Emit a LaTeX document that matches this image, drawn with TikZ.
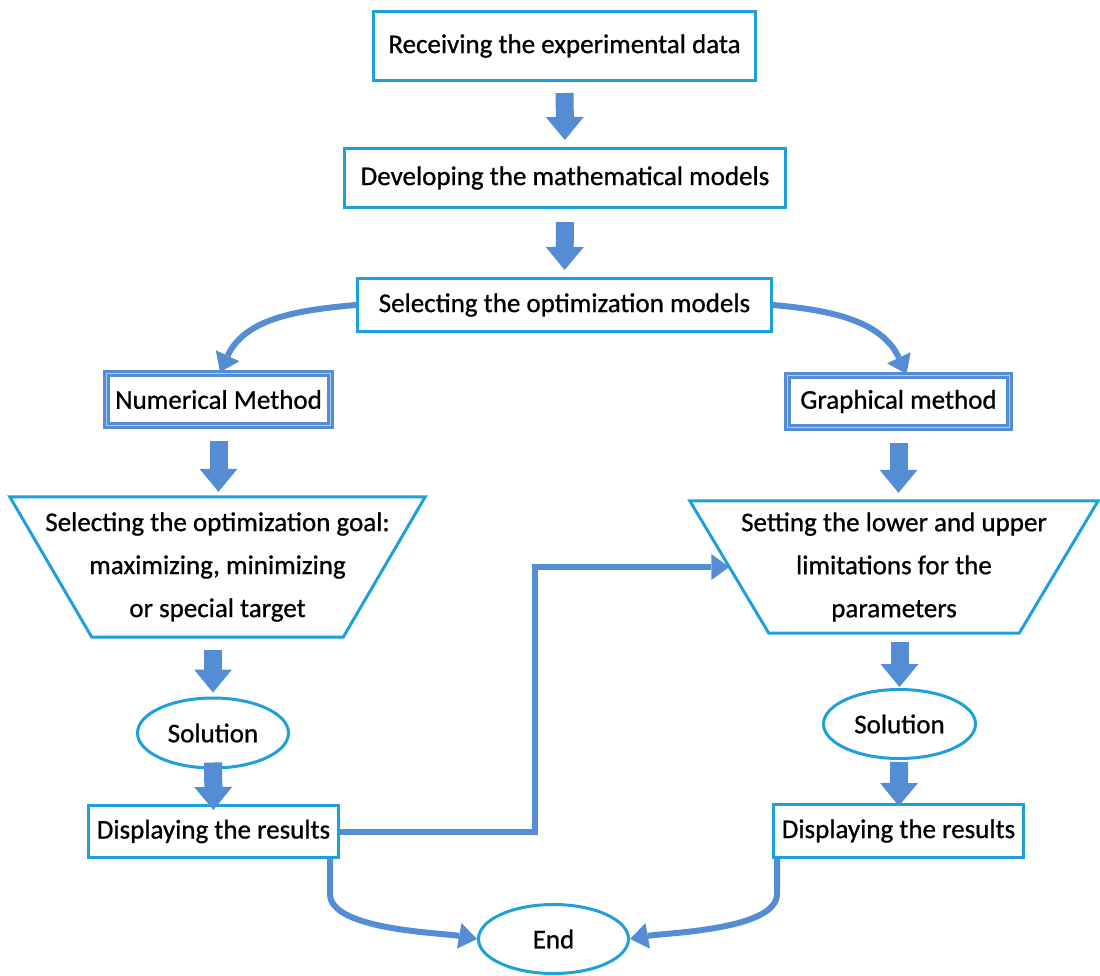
\documentclass[tikz,border=0pt]{standalone}
\usepackage{fontspec}
\setmainfont{Carlito}[UprightFeatures={FakeBold=0.8}]
\usepackage{xcolor}
\usepackage{tikz}
\usetikzlibrary{shapes.geometric,arrows.meta,calc}
\definecolor{boxcyan}{RGB}{30,160,220}
\definecolor{arrowblue}{RGB}{84,141,212}
\definecolor{methodline}{RGB}{170,205,240}
\newcommand{\flowbox}[4][]{\node[procbox,#1] at (#2) (#3) {#4}}
\newcommand{\trapbox}[6]{%
  \node[align=center,inner sep=0pt,minimum width=#3,minimum height=#4] at (#1) (#2) {#6};
  \draw[trapline] (#2.north west) -- (#2.north east) -- ([xshift=-#5]#2.south east) -- ([xshift=#5]#2.south west) -- cycle}
\tikzset{
  procbox/.style={draw=boxcyan,line width=3pt,fill=white,inner sep=4pt},
  methodbox/.style={draw=arrowblue,line width=2.8pt,double=methodline,double distance=1.4pt},
  termbox/.style={ellipse,draw=boxcyan,line width=3pt,inner sep=2pt},
  trapline/.style={draw=boxcyan,line width=3pt,line join=miter},
  blockarrow/.style={draw=arrowblue,line width=18pt,-{Triangle[length=23pt,width=38pt,line width=0pt]}},
  flowline/.style={draw=arrowblue,line width=6pt,-{Triangle[length=18pt,width=26pt,line width=0pt]}}
}

\begin{document}
\begin{tikzpicture}[x=1pt,y=1pt,font=\fontsize{27}{43}\selectfont]
  \useasboundingbox (0,0) rectangle (1100,-976);
  \flowbox[minimum width=382pt,minimum height=69pt]{564.5,-46}{recv}{Receiving the experimental data};
  \flowbox[minimum width=441pt,minimum height=59pt]{565,-178}{devel}{Developing the mathematical models};
  \flowbox[minimum width=414pt,minimum height=53pt]{564.5,-305}{sel}{Selecting the optimization models};
  \flowbox[methodbox,minimum width=224pt,minimum height=52pt]{218.5,-399.5}{num}{Numerical Method};
  \flowbox[methodbox,minimum width=222pt,minimum height=52pt]{898.5,-401.5}{graph}{Graphical method};
  \trapbox{217.5,-567}{goal}{415pt}{140pt}{82pt}{Selecting the optimization goal:\\ maximizing, minimizing\\ or special target};
  \trapbox{894,-567}{limits}{408pt}{132pt}{79pt}{Setting the lower and upper\\ limitations for the\\ parameters};
  \flowbox[termbox,minimum width=151pt,minimum height=70pt]{213,-733}{solL}{Solution};
  \flowbox[termbox,minimum width=152pt,minimum height=69pt]{899.5,-724}{solR}{Solution};
  \flowbox[minimum width=250pt,minimum height=52pt]{213.5,-831.5}{dispL}{Displaying the results};
  \flowbox[minimum width=250pt,minimum height=53pt]{898.5,-831}{dispR}{Displaying the results};
  \flowbox[termbox,minimum width=150pt,minimum height=69pt]{553.5,-939}{done}{End};

  \draw[blockarrow,shorten <=11pt,shorten >=7pt] (recv) -- (devel);
  \draw[blockarrow,shorten <=13pt,shorten >=7pt] (devel) -- (sel);
  \draw[blockarrow,shorten <=14pt,shorten >=5pt] (num.south) -- (num.south |- goal.north);
  \draw[blockarrow,shorten <=13pt,shorten >=4pt] (goal.south -| solL.north) -- (solL.north);
  \draw[blockarrow,shorten <=-7pt,shorten >=-6pt] (solL) -- (dispL);
  \draw[blockarrow,shorten <=14pt,shorten >=8pt] (graph.south) -- (graph.south |- limits.north);
  \draw[blockarrow,shorten <=9pt,shorten >=1pt] (limits.south -| solR.north) -- (solR.north);
  \draw[blockarrow,shorten <=2pt,shorten >=-3pt] (solR) -- (dispR);

  \draw[flowline] (sel.west) to[out=185,in=65] ([xshift=1.5pt]num.north);
  \draw[flowline] (sel.east) to[out=-5,in=115] ([xshift=8pt]graph.north);
  \draw[flowline] (dispL.east) -- ++(195,0) |- ($(limits.west)+(39.5,0)$);
  \draw[flowline] ([xshift=-10pt]dispL.south east) -- ++(0,-35) to[out=-90,in=170,looseness=0.6] (done.west);
  \draw[flowline] ([xshift=5pt]dispR.south west) -- ++(0,-35) to[out=-90,in=10,looseness=0.6] (done.east);
\end{tikzpicture}
\end{document}
